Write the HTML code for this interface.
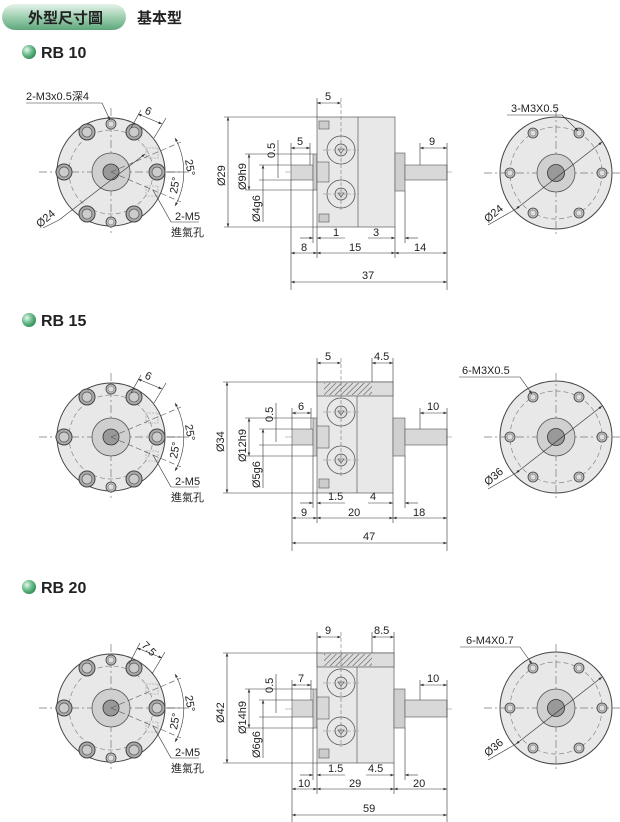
<!DOCTYPE html>
<html><head><meta charset="utf-8"><style>
html,body{margin:0;padding:0;background:#fff;}
svg{display:block;font-family:"Liberation Sans","Noto Sans CJK TC",sans-serif;}
</style></head><body>
<svg width="620" height="822" viewBox="0 0 620 822" xmlns="http://www.w3.org/2000/svg">
<defs>
<linearGradient id="pill" x1="0" y1="0" x2="0" y2="1"><stop offset="0" stop-color="#e6f2ea"/><stop offset="0.5" stop-color="#9fcfb0"/><stop offset="1" stop-color="#5ea77b"/></linearGradient>
<radialGradient id="ball" cx="0.35" cy="0.35" r="0.7"><stop offset="0" stop-color="#e8f7ee"/><stop offset="0.5" stop-color="#6fbf8f"/><stop offset="1" stop-color="#2f8a55"/></radialGradient>
<marker id="a" viewBox="0 0 8 6" refX="8" refY="3" markerWidth="6" markerHeight="4.5" orient="auto-start-reverse"><path d="M0,0L8,3L0,6z" fill="#333"/></marker>
<pattern id="hatch" width="4" height="4" patternUnits="userSpaceOnUse" patternTransform="rotate(45)"><rect width="4" height="4" fill="#ddd"/><line x1="0" y1="0" x2="0" y2="4" stroke="#555" stroke-width="1.2"/></pattern>
<g id="bolt"><circle r="8" fill="#aaa" stroke="#444" stroke-width="1"/><circle r="5" fill="#ccc" stroke="#555" stroke-width="0.7"/></g>
<g id="sh"><circle r="5" fill="#bbb" stroke="#444" stroke-width="0.8"/><circle r="3" fill="#ddd" stroke="#666" stroke-width="0.5"/></g>
<g id="front">
<circle r="54" fill="#e8e8e8" stroke="#444" stroke-width="1"/>
<circle r="42" fill="none" stroke="#888" stroke-width="0.7" stroke-dasharray="5,3"/>
<line x1="-72" y1="0" x2="72" y2="0" stroke="#777" stroke-width="0.7" stroke-dasharray="8,3,2,3"/>
<line x1="0" y1="-64" x2="0" y2="64" stroke="#777" stroke-width="0.7" stroke-dasharray="8,3,2,3"/>
<circle r="19" fill="#cfcfcf" stroke="#555" stroke-width="0.8"/>
<circle r="8" fill="#999" stroke="#333" stroke-width="0.8"/>
<use href="#bolt" x="-24" y="-40"/><use href="#bolt" x="23" y="-40"/><use href="#bolt" x="-47" y="0"/><use href="#bolt" x="46" y="0"/><use href="#bolt" x="-24" y="42"/><use href="#bolt" x="23" y="42"/>
<use href="#sh" x="0" y="-48"/><use href="#sh" x="0" y="50"/>
<rect x="35" y="-24" width="12" height="10" fill="none" stroke="#999" stroke-width="0.6" stroke-dasharray="2,1"/>
<rect x="35" y="14" width="12" height="10" fill="none" stroke="#999" stroke-width="0.6" stroke-dasharray="2,1"/>
<line x1="0" y1="0" x2="70" y2="-30" stroke="#555" stroke-width="0.6" stroke-dasharray="6,3"/>
<line x1="0" y1="0" x2="70" y2="30" stroke="#555" stroke-width="0.6" stroke-dasharray="6,3"/>
<path d="M64,-34 A70,70 0 0 1 64,34" fill="none" stroke="#333" stroke-width="0.6" marker-start="url(#a)" marker-end="url(#a)"/>
<line x1="55" y1="0" x2="78" y2="0" stroke="#333" stroke-width="0.5"/>
<text x="74" y="-12" font-size="11" fill="#222" stroke="none" transform="rotate(80 74 -12)">25°</text>
<text x="66" y="22" font-size="11" fill="#222" stroke="none" transform="rotate(-80 66 22)">25°</text>
<line x1="42" y1="18" x2="60" y2="50" stroke="#333" stroke-width="0.6"/>
<line x1="60" y1="50" x2="88" y2="50" stroke="#333" stroke-width="0.6"/>
<text x="64" y="48" font-size="11" fill="#222" stroke="none">2-M5</text>
<text x="60" y="64" font-size="11" fill="#222" stroke="none">進氣孔</text>
</g>
<g id="back">
<circle r="56" fill="#e8e8e8" stroke="#444" stroke-width="1"/>
<circle r="46" fill="none" stroke="#888" stroke-width="0.7" stroke-dasharray="5,3"/>
<line x1="-72" y1="0" x2="72" y2="0" stroke="#777" stroke-width="0.7" stroke-dasharray="8,3,2,3"/>
<line x1="0" y1="-64" x2="0" y2="64" stroke="#777" stroke-width="0.7" stroke-dasharray="8,3,2,3"/>
<circle r="19" fill="#d0d0d0" stroke="#555" stroke-width="0.8"/>
<circle r="8.5" fill="#999" stroke="#333" stroke-width="0.8"/>
<use href="#sh" x="46" y="0"/><use href="#sh" x="-46" y="0"/><use href="#sh" x="23" y="-40"/><use href="#sh" x="-23" y="-40"/><use href="#sh" x="23" y="40"/><use href="#sh" x="-23" y="40"/>
<line x1="-68" y1="52" x2="-40" y2="36" stroke="#333" stroke-width="0.6"/>
<line x1="-40" y1="36" x2="46" y2="-31" stroke="#333" stroke-width="0.6" marker-start="url(#a)" marker-end="url(#a)"/>
</g>
<g id="port"><circle r="14" fill="#e8e8e8" stroke="#555" stroke-width="0.8"/><circle r="6" fill="#ddd" stroke="#444" stroke-width="0.7"/><path d="M-3,-1 L3,-1 L0,3z" fill="none" stroke="#444" stroke-width="0.6"/><line x1="-18" y1="0" x2="18" y2="0" stroke="#888" stroke-width="0.5" stroke-dasharray="3,2"/></g>
</defs>

<rect x="2" y="4" width="124" height="26" rx="13" fill="url(#pill)"/>
<text x="28" y="23" font-size="15" font-weight="bold" fill="#222">外型尺寸圖</text>
<text x="137" y="23" font-size="15" font-weight="bold" fill="#222">基本型</text>

<circle cx="29" cy="52" r="7" fill="url(#ball)"/><text x="41" y="58" font-size="16" font-weight="bold" fill="#222">RB 10</text>
<circle cx="29" cy="320" r="7" fill="url(#ball)"/><text x="41" y="326" font-size="16" font-weight="bold" fill="#222">RB 15</text>
<circle cx="29" cy="587" r="7" fill="url(#ball)"/><text x="41" y="593" font-size="16" font-weight="bold" fill="#222">RB 20</text>

<g stroke-width="0.6" stroke="#333" fill="none" font-size="11">
<!-- Row 1 -->
<use href="#front" x="111" y="172"/>
<line x1="59" y1="220" x2="145" y2="154" marker-end="url(#a)"/>
<line x1="43" y1="228" x2="59" y2="220"/>
<text x="26" y="100" fill="#222" stroke="none">2-M3x0.5深4</text>
<line x1="26" y1="103" x2="102" y2="103"/><line x1="102" y1="103" x2="110" y2="120" marker-end="url(#a)"/>
<line x1="131" y1="128" x2="141" y2="110"/><line x1="154" y1="138" x2="166" y2="118"/>
<line x1="138" y1="114" x2="162" y2="124" marker-start="url(#a)" marker-end="url(#a)"/>
<text x="144" y="113" fill="#222" stroke="none" transform="rotate(25 144 113)">6</text>
<text x="40" y="228" fill="#222" stroke="none" transform="rotate(-40 40 228)">Ø24</text>

<use href="#back" x="556" y="173"/>
<text x="511" y="112" fill="#222" stroke="none">3-M3X0.5</text>
<line x1="507" y1="115" x2="562" y2="115"/><line x1="562" y1="115" x2="578" y2="131" marker-end="url(#a)"/>
<text x="488" y="223" fill="#222" stroke="none" transform="rotate(-40 488 223)">Ø24</text>

<line x1="285" y1="172" x2="452" y2="172" stroke="#888" stroke-dasharray="8,3,2,3"/>
<rect x="291" y="165" width="22" height="15" fill="#d8d8d8" stroke="#555"/>
<rect x="313" y="154" width="4" height="36" fill="#cfcfcf" stroke="#555"/>
<rect x="317" y="117" width="78" height="110" fill="#e8e8e8" stroke="#444"/>
<line x1="358" y1="117" x2="358" y2="227" stroke="#444"/>
<rect x="317" y="162" width="12" height="20" fill="#d8d8d8" stroke="#555"/>
<rect x="319" y="121" width="10" height="8" fill="#ccc" stroke="#555"/>
<rect x="319" y="214" width="10" height="8" fill="#ccc" stroke="#555"/>
<use href="#port" x="341" y="150"/><use href="#port" x="341" y="194"/>
<line x1="341" y1="98" x2="341" y2="210" stroke="#777" stroke-dasharray="4,2"/>
<rect x="395" y="153" width="10" height="38" fill="#cfcfcf" stroke="#555"/>
<rect x="405" y="165" width="42" height="15" fill="#d8d8d8" stroke="#555"/>
<line x1="317" y1="98" x2="317" y2="117"/>
<line x1="317" y1="103" x2="341" y2="103" marker-start="url(#a)" marker-end="url(#a)"/><text x="325" y="100" fill="#222" stroke="none">5</text>
<line x1="291" y1="143" x2="291" y2="165"/><line x1="310" y1="143" x2="310" y2="165"/>
<line x1="291" y1="148" x2="310" y2="148" marker-start="url(#a)" marker-end="url(#a)"/><text x="297" y="145" fill="#222" stroke="none">5</text>
<line x1="420" y1="143" x2="420" y2="165"/><line x1="447" y1="143" x2="447" y2="290"/>
<line x1="420" y1="148" x2="447" y2="148" marker-start="url(#a)" marker-end="url(#a)"/><text x="429" y="145" fill="#222" stroke="none">9</text>
<line x1="224" y1="117" x2="317" y2="117"/><line x1="224" y1="227" x2="317" y2="227"/>
<line x1="228" y1="117" x2="228" y2="227" marker-start="url(#a)" marker-end="url(#a)"/>
<text x="225" y="186" fill="#222" stroke="none" transform="rotate(-90 225 186)">Ø29</text>
<line x1="245" y1="154" x2="313" y2="154"/><line x1="245" y1="190" x2="313" y2="190"/>
<line x1="249" y1="154" x2="249" y2="190" marker-start="url(#a)" marker-end="url(#a)"/>
<text x="246" y="190" fill="#222" stroke="none" transform="rotate(-90 246 190)">Ø9h9</text>
<line x1="259" y1="165" x2="291" y2="165"/><line x1="259" y1="180" x2="291" y2="180"/>
<line x1="263" y1="165" x2="263" y2="222" marker-start="url(#a)"/>
<text x="260" y="222" fill="#222" stroke="none" transform="rotate(-90 260 222)">Ø4g6</text>
<line x1="278" y1="140" x2="278" y2="178"/>
<text x="275" y="158" fill="#222" stroke="none" transform="rotate(-90 275 158)">0.5</text>
<line x1="291" y1="180" x2="291" y2="290"/><line x1="313" y1="190" x2="313" y2="243"/><line x1="317" y1="227" x2="317" y2="258"/><line x1="395" y1="227" x2="395" y2="258"/><line x1="405" y1="191" x2="405" y2="243"/>
<line x1="300" y1="238" x2="313" y2="238" marker-end="url(#a)"/><line x1="317" y1="238" x2="345" y2="238" marker-start="url(#a)"/><text x="333" y="236" fill="#222" stroke="none">1</text>
<line x1="368" y1="238" x2="395" y2="238" marker-end="url(#a)"/><line x1="405" y1="238" x2="418" y2="238" marker-start="url(#a)"/><text x="373" y="236" fill="#222" stroke="none">3</text>
<line x1="291" y1="253" x2="317" y2="253" marker-start="url(#a)" marker-end="url(#a)"/><text x="301" y="251" fill="#222" stroke="none">8</text>
<line x1="317" y1="253" x2="395" y2="253" marker-start="url(#a)" marker-end="url(#a)"/><text x="349" y="251" fill="#222" stroke="none">15</text>
<line x1="395" y1="253" x2="447" y2="253" marker-start="url(#a)" marker-end="url(#a)"/><text x="414" y="251" fill="#222" stroke="none">14</text>
<line x1="291" y1="282" x2="447" y2="282" marker-start="url(#a)" marker-end="url(#a)"/><text x="362" y="279" fill="#222" stroke="none">37</text>

<!-- Row 2 -->
<use href="#front" x="111" y="437"/>
<line x1="131" y1="393" x2="141" y2="375"/><line x1="154" y1="403" x2="166" y2="383"/>
<line x1="138" y1="379" x2="162" y2="389" marker-start="url(#a)" marker-end="url(#a)"/>
<text x="144" y="378" fill="#222" stroke="none" transform="rotate(25 144 378)">6</text>
<use href="#back" x="556" y="437"/>
<text x="462" y="374" fill="#222" stroke="none">6-M3X0.5</text>
<line x1="459" y1="377" x2="520" y2="377"/><line x1="520" y1="377" x2="532" y2="394" marker-end="url(#a)"/>
<text x="488" y="486" fill="#222" stroke="none" transform="rotate(-40 488 486)">Ø36</text>

<line x1="285" y1="437" x2="452" y2="437" stroke="#888" stroke-dasharray="8,3,2,3"/>
<rect x="292" y="429" width="21" height="16" fill="#d8d8d8" stroke="#555"/>
<rect x="313" y="418" width="4" height="38" fill="#cfcfcf" stroke="#555"/>
<rect x="317" y="382" width="76" height="111" fill="#e8e8e8" stroke="#444"/>
<rect x="317" y="382" width="76" height="14" fill="#ddd" stroke="#444"/>
<rect x="324" y="383" width="48" height="12" fill="url(#hatch)" stroke="none"/>
<line x1="357" y1="396" x2="357" y2="493" stroke="#444"/>
<rect x="317" y="426" width="12" height="22" fill="#d8d8d8" stroke="#555"/>
<rect x="319" y="479" width="10" height="9" fill="#ccc" stroke="#555"/>
<use href="#port" x="341" y="412"/><use href="#port" x="341" y="460"/>
<line x1="341" y1="358" x2="341" y2="476" stroke="#777" stroke-dasharray="4,2"/>
<rect x="393" y="418" width="12" height="38" fill="#cfcfcf" stroke="#555"/>
<rect x="405" y="429" width="42" height="16" fill="#d8d8d8" stroke="#555"/>
<line x1="317" y1="358" x2="317" y2="382"/><line x1="372" y1="358" x2="372" y2="382"/><line x1="393" y1="358" x2="393" y2="382"/>
<line x1="317" y1="363" x2="341" y2="363" marker-start="url(#a)" marker-end="url(#a)"/><text x="325" y="360" fill="#222" stroke="none">5</text>
<line x1="372" y1="363" x2="393" y2="363" marker-start="url(#a)" marker-end="url(#a)"/><text x="374" y="360" fill="#222" stroke="none">4.5</text>
<line x1="292" y1="408" x2="292" y2="429"/><line x1="311" y1="408" x2="311" y2="429"/>
<line x1="292" y1="413" x2="311" y2="413" marker-start="url(#a)" marker-end="url(#a)"/><text x="298" y="410" fill="#222" stroke="none">6</text>
<line x1="420" y1="408" x2="420" y2="429"/><line x1="447" y1="408" x2="447" y2="551"/>
<line x1="420" y1="413" x2="447" y2="413" marker-start="url(#a)" marker-end="url(#a)"/><text x="427" y="410" fill="#222" stroke="none">10</text>
<line x1="223" y1="382" x2="317" y2="382"/><line x1="223" y1="493" x2="317" y2="493"/>
<line x1="227" y1="382" x2="227" y2="493" marker-start="url(#a)" marker-end="url(#a)"/>
<text x="224" y="452" fill="#222" stroke="none" transform="rotate(-90 224 452)">Ø34</text>
<line x1="245" y1="418" x2="313" y2="418"/><line x1="245" y1="456" x2="313" y2="456"/>
<line x1="249" y1="418" x2="249" y2="456" marker-start="url(#a)" marker-end="url(#a)"/>
<text x="246" y="462" fill="#222" stroke="none" transform="rotate(-90 246 462)">Ø12h9</text>
<line x1="259" y1="429" x2="292" y2="429"/><line x1="259" y1="445" x2="292" y2="445"/>
<line x1="263" y1="429" x2="263" y2="488" marker-start="url(#a)"/>
<text x="260" y="488" fill="#222" stroke="none" transform="rotate(-90 260 488)">Ø5g6</text>
<line x1="276" y1="403" x2="276" y2="442"/>
<text x="273" y="422" fill="#222" stroke="none" transform="rotate(-90 273 422)">0.5</text>
<line x1="292" y1="445" x2="292" y2="551"/><line x1="313" y1="456" x2="313" y2="508"/><line x1="317" y1="493" x2="317" y2="523"/><line x1="393" y1="493" x2="393" y2="523"/><line x1="405" y1="456" x2="405" y2="508"/>
<line x1="300" y1="503" x2="313" y2="503" marker-end="url(#a)"/><line x1="317" y1="503" x2="345" y2="503" marker-start="url(#a)"/><text x="328" y="500" fill="#222" stroke="none">1.5</text>
<line x1="368" y1="503" x2="393" y2="503" marker-end="url(#a)"/><line x1="405" y1="503" x2="418" y2="503" marker-start="url(#a)"/><text x="370" y="500" fill="#222" stroke="none">4</text>
<line x1="292" y1="518" x2="317" y2="518" marker-start="url(#a)" marker-end="url(#a)"/><text x="301" y="516" fill="#222" stroke="none">9</text>
<line x1="317" y1="518" x2="393" y2="518" marker-start="url(#a)" marker-end="url(#a)"/><text x="348" y="516" fill="#222" stroke="none">20</text>
<line x1="393" y1="518" x2="447" y2="518" marker-start="url(#a)" marker-end="url(#a)"/><text x="413" y="516" fill="#222" stroke="none">18</text>
<line x1="292" y1="543" x2="447" y2="543" marker-start="url(#a)" marker-end="url(#a)"/><text x="363" y="540" fill="#222" stroke="none">47</text>

<!-- Row 3 -->
<use href="#front" x="111" y="708"/>
<line x1="129" y1="664" x2="140" y2="643"/><line x1="152" y1="674" x2="165" y2="652"/>
<line x1="137" y1="648" x2="162" y2="658" marker-start="url(#a)" marker-end="url(#a)"/>
<text x="141" y="646" fill="#222" stroke="none" transform="rotate(45 141 646)">7.5</text>
<use href="#back" x="556" y="708"/>
<text x="466" y="644" fill="#222" stroke="none">6-M4X0.7</text>
<line x1="460" y1="647" x2="520" y2="647"/><line x1="520" y1="647" x2="532" y2="664" marker-end="url(#a)"/>
<text x="488" y="757" fill="#222" stroke="none" transform="rotate(-40 488 757)">Ø36</text>

<line x1="285" y1="709" x2="452" y2="709" stroke="#888" stroke-dasharray="8,3,2,3"/>
<rect x="292" y="700" width="21" height="17" fill="#d8d8d8" stroke="#555"/>
<rect x="313" y="689" width="4" height="39" fill="#cfcfcf" stroke="#555"/>
<rect x="317" y="653" width="77" height="110" fill="#e8e8e8" stroke="#444"/>
<rect x="317" y="653" width="77" height="14" fill="#ddd" stroke="#444"/>
<rect x="324" y="654" width="48" height="12" fill="url(#hatch)" stroke="none"/>
<line x1="357" y1="667" x2="357" y2="763" stroke="#444"/>
<rect x="317" y="697" width="12" height="22" fill="#d8d8d8" stroke="#555"/>
<rect x="319" y="749" width="10" height="9" fill="#ccc" stroke="#555"/>
<use href="#port" x="341" y="683"/><use href="#port" x="341" y="731"/>
<line x1="341" y1="632" x2="341" y2="747" stroke="#777" stroke-dasharray="4,2"/>
<rect x="394" y="689" width="11" height="39" fill="#cfcfcf" stroke="#555"/>
<rect x="405" y="700" width="42" height="17" fill="#d8d8d8" stroke="#555"/>
<line x1="317" y1="632" x2="317" y2="653"/><line x1="372" y1="632" x2="372" y2="653"/><line x1="394" y1="632" x2="394" y2="653"/>
<line x1="317" y1="637" x2="341" y2="637" marker-start="url(#a)" marker-end="url(#a)"/><text x="325" y="634" fill="#222" stroke="none">9</text>
<line x1="372" y1="637" x2="394" y2="637" marker-start="url(#a)" marker-end="url(#a)"/><text x="374" y="634" fill="#222" stroke="none">8.5</text>
<line x1="292" y1="680" x2="292" y2="700"/><line x1="311" y1="680" x2="311" y2="700"/>
<line x1="292" y1="685" x2="311" y2="685" marker-start="url(#a)" marker-end="url(#a)"/><text x="298" y="682" fill="#222" stroke="none">7</text>
<line x1="420" y1="680" x2="420" y2="700"/><line x1="447" y1="680" x2="447" y2="822"/>
<line x1="420" y1="685" x2="447" y2="685" marker-start="url(#a)" marker-end="url(#a)"/><text x="427" y="682" fill="#222" stroke="none">10</text>
<line x1="223" y1="653" x2="317" y2="653"/><line x1="223" y1="763" x2="317" y2="763"/>
<line x1="227" y1="653" x2="227" y2="763" marker-start="url(#a)" marker-end="url(#a)"/>
<text x="224" y="723" fill="#222" stroke="none" transform="rotate(-90 224 723)">Ø42</text>
<line x1="245" y1="689" x2="313" y2="689"/><line x1="245" y1="728" x2="313" y2="728"/>
<line x1="249" y1="689" x2="249" y2="728" marker-start="url(#a)" marker-end="url(#a)"/>
<text x="246" y="734" fill="#222" stroke="none" transform="rotate(-90 246 734)">Ø14h9</text>
<line x1="259" y1="700" x2="292" y2="700"/><line x1="259" y1="717" x2="292" y2="717"/>
<line x1="263" y1="700" x2="263" y2="758" marker-start="url(#a)"/>
<text x="260" y="758" fill="#222" stroke="none" transform="rotate(-90 260 758)">Ø6g6</text>
<line x1="276" y1="674" x2="276" y2="713"/>
<text x="273" y="693" fill="#222" stroke="none" transform="rotate(-90 273 693)">0.5</text>
<line x1="292" y1="717" x2="292" y2="822"/><line x1="313" y1="728" x2="313" y2="780"/><line x1="317" y1="763" x2="317" y2="794"/><line x1="394" y1="763" x2="394" y2="794"/><line x1="405" y1="728" x2="405" y2="780"/>
<line x1="300" y1="775" x2="313" y2="775" marker-end="url(#a)"/><line x1="317" y1="775" x2="345" y2="775" marker-start="url(#a)"/><text x="328" y="772" fill="#222" stroke="none">1.5</text>
<line x1="366" y1="775" x2="394" y2="775" marker-end="url(#a)"/><line x1="405" y1="775" x2="418" y2="775" marker-start="url(#a)"/><text x="368" y="772" fill="#222" stroke="none">4.5</text>
<line x1="292" y1="789" x2="317" y2="789" marker-start="url(#a)" marker-end="url(#a)"/><text x="298" y="787" fill="#222" stroke="none">10</text>
<line x1="317" y1="789" x2="394" y2="789" marker-start="url(#a)" marker-end="url(#a)"/><text x="349" y="787" fill="#222" stroke="none">29</text>
<line x1="394" y1="789" x2="447" y2="789" marker-start="url(#a)" marker-end="url(#a)"/><text x="413" y="787" fill="#222" stroke="none">20</text>
<line x1="292" y1="815" x2="447" y2="815" marker-start="url(#a)" marker-end="url(#a)"/><text x="363" y="812" fill="#222" stroke="none">59</text>
</g>
</svg>
</body></html>
